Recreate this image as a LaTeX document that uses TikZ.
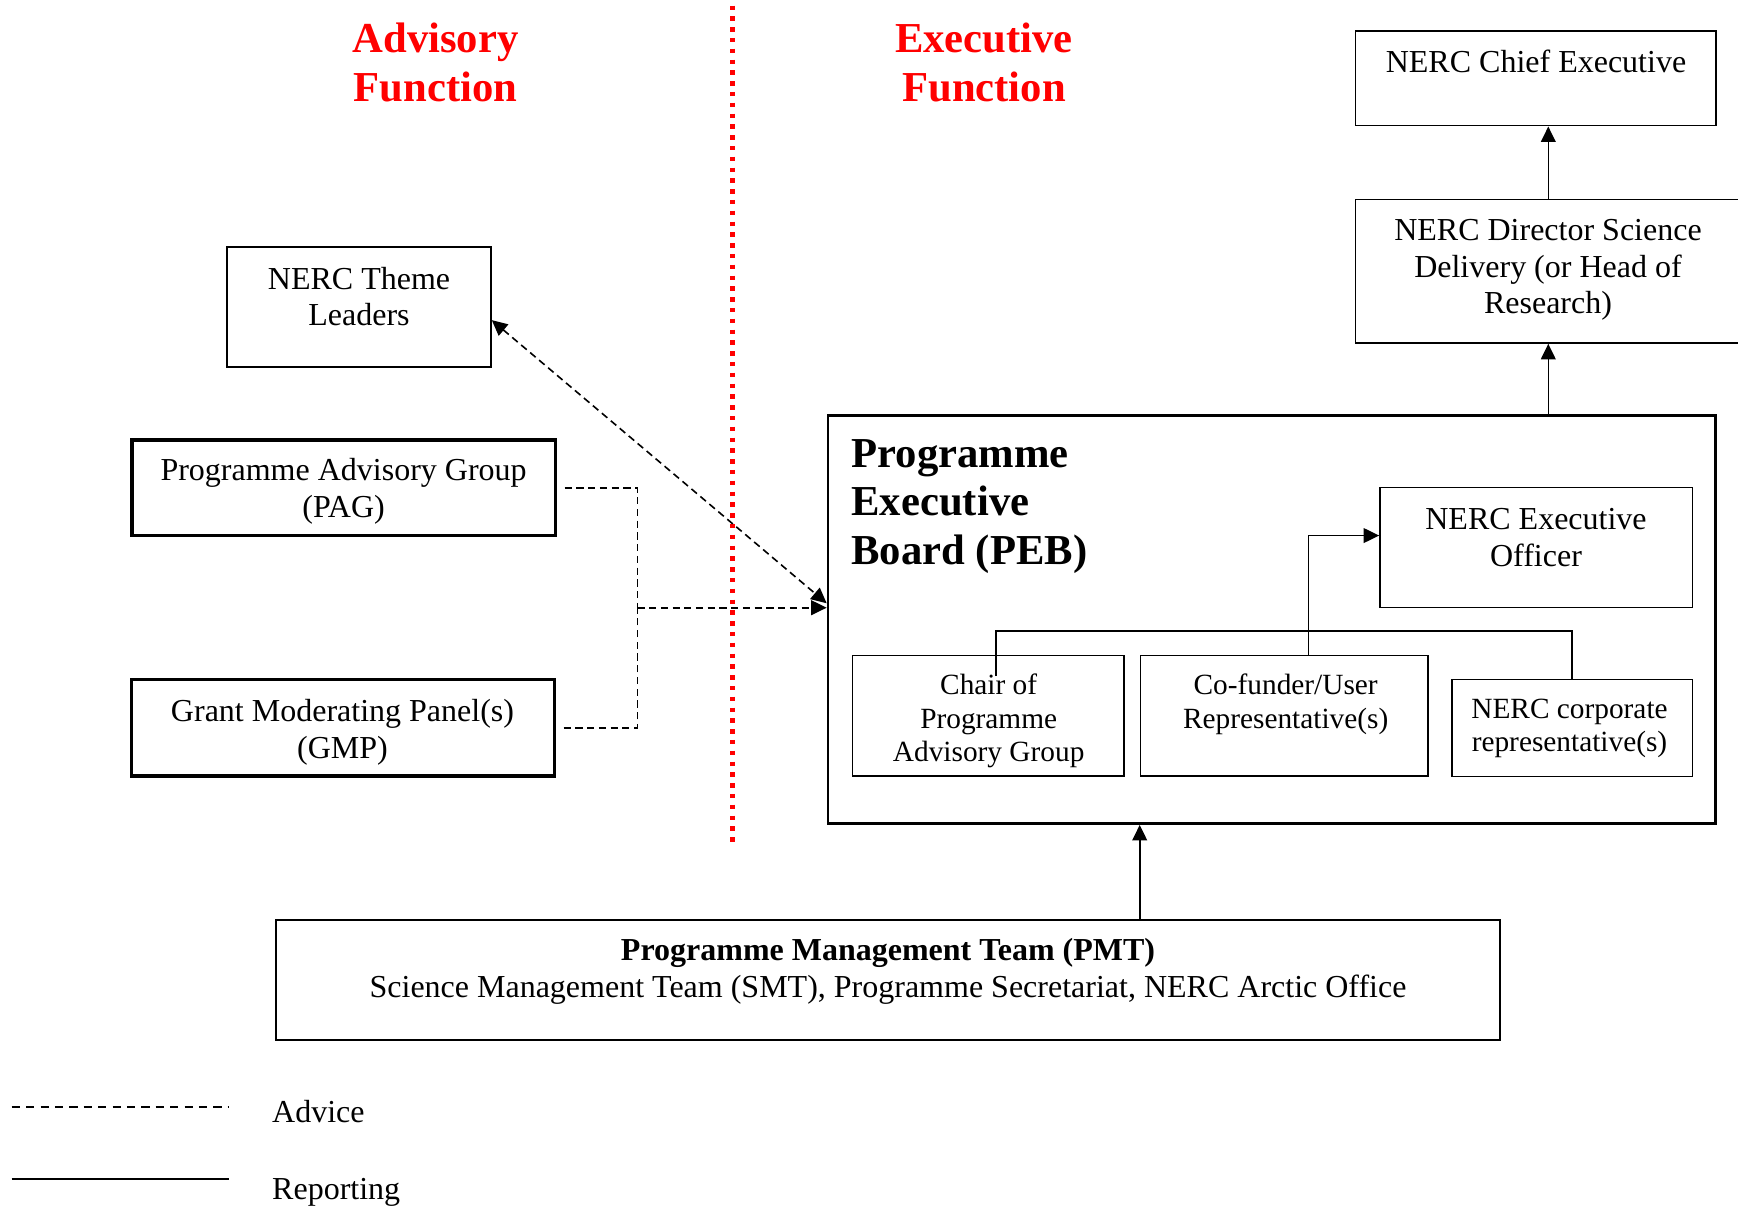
\documentclass[tikz,border=0pt]{standalone}
\usepackage{fontspec}
\setmainfont{Liberation Serif}
\usetikzlibrary{arrows.meta}

\tikzset{
  box/.style={draw, line width=0.6pt, inner sep=0pt},
  boldbox/.style={draw, line width=1.25pt, inner sep=0pt},
  label12/.style={align=center, inner sep=0pt, font=\fontsize{12}{13.8}\selectfont},
  label11/.style={align=center, inner sep=0pt, font=\fontsize{11}{12.65}\selectfont},
  heading/.style={align=center, inner sep=0pt, text=red, font=\fontsize{16}{18.7}\selectfont\bfseries},
  report/.style={line width=0.6pt, ->},
  advice/.style={line width=0.6pt, dash pattern=on 2.7pt off 1.7pt},
}

\begin{document}
\begin{tikzpicture}[x=0.375pt, y=-0.375pt, >={Triangle[length=5.8pt,width=5.5pt]}]
  \useasboundingbox (0,0) rectangle (1738,1208);

  % headings and divider
  \node[heading] (adv) at (435.6,62.5) {Advisory\\Function};
  \node[heading] (exe) at (984,62.5) {Executive\\Function};
  \draw[red, line width=1.75pt, dash pattern=on 1.7pt off 2.35pt] (732.3,5.5) -- (732.3,844.6);

  % NERC line
  \node[box, minimum width=135.15pt, minimum height=35.5pt] (chief) at (1535.8,78.35) {};
  \node[label12] (chief-t) at (1536,61) {NERC Chief Executive};
  \node[box, minimum width=144.5pt, minimum height=53.8pt] (director) at (1548.3,271.25) {};
  \node[label12] (director-t) at (1548,270) {NERC Director Science\\Delivery (or Head of\\Research)};

  % advisory side
  \node[box, minimum width=98.9pt, minimum height=44.9pt] (theme) at (359.1,307.05) {};
  \node[label12] (theme-t) at (359,296.5) {NERC Theme\\Leaders};
  \node[boldbox, minimum width=158.8pt, minimum height=35.8pt] (pag) at (343.6,487.7) {};
  \node[label12] (pag-t) at (343.6,491.3) {Programme Advisory Group\\(PAG)};
  \node[boldbox, minimum width=158.4pt, minimum height=36.2pt] (gmp) at (343,727.7) {};
  \node[label12] (gmp-t) at (342.5,732.1) {Grant Moderating Panel(s)\\(GMP)};

  % executive board
  \node[draw, line width=1pt, inner sep=0pt, minimum width=332.9pt, minimum height=153pt] (peb) at (1271.9,619.55) {};
  \node[inner sep=0pt, anchor=west, align=left, font=\fontsize{16}{18.3}\selectfont\bfseries] (peb-t) at (851,506.4) {Programme\\Executive\\Board (PEB)};
  \node[box, minimum width=117.2pt, minimum height=44.9pt] (officer) at (1536.25,547.55) {};
  \node[label12] (officer-t) at (1536,537.2) {NERC Executive\\Officer};
  \node[box, minimum width=101.9pt, minimum height=45.2pt] (chair) at (988.2,715.75) {};
  \node[label11] (chair-t) at (988.7,721) {Chair of\\Programme\\Advisory Group};
  \node[box, minimum width=107.8pt, minimum height=45.2pt] (cofunder) at (1284.25,715.75) {};
  \node[label11] (cofunder-t) at (1285.7,704.5) {Co-funder/User\\Representative(s)};
  \node[box, minimum width=90.2pt, minimum height=36.4pt] (corporate) at (1572.25,728) {};
  \node[label11] (corporate-t) at (1569.5,728.5) {NERC corporate\\representative(s)};

  % management team
  \node[box, minimum width=458.9pt, minimum height=44.9pt] (pmt) at (887.85,979.85) {};
  \node[label12] (pmt-t) at (888,971.3) {\textbf{Programme Management Team (PMT)}\\Science Management Team (SMT), Programme Secretariat, NERC Arctic Office};

  % reporting
  \draw[report] (director.north) -- (director.north |- chief.south);
  \draw[report] (director.south |- peb.north) -- (director.south);
  \draw[report] (pmt.north -| cofunder.west) -- (peb.south -| cofunder.west);
  \coordinate (chair-tap) at (996,676);
  \coordinate (bus) at (996,631);
  \coordinate (tap) at (1308.4,631);
  \draw[line width=0.6pt] (chair-tap) -- (bus) -| (corporate.north);
  \draw[report] (cofunder.north -| tap) |- ([yshift=4.5pt]officer.west);

  % advice
  \coordinate (merge) at (637.3,607.7);
  \draw[advice] ([xshift=2.9pt]pag.east) -| (merge);
  \draw[advice] ([xshift=2.9pt]gmp.east) -| (merge);
  \draw[advice, ->] (merge) -- (merge -| peb.west);
  \draw[advice, <->] ([yshift=-4.9pt]theme.east) -- ([yshift=6.1pt]peb.west);

  % legend
  \draw[line width=0.6pt, dash pattern=on 3.1pt off 2.3pt] (11.7,1106.7) -- (229,1106.7);
  \draw[line width=0.75pt] (11.7,1179) -- (229,1179);
  \node[label12, anchor=base west] (advice-t) at (271.7,1122) {Advice};
  \node[label12, anchor=base west] (report-t) at (271.7,1199.5) {Reporting};
\end{tikzpicture}
\end{document}
